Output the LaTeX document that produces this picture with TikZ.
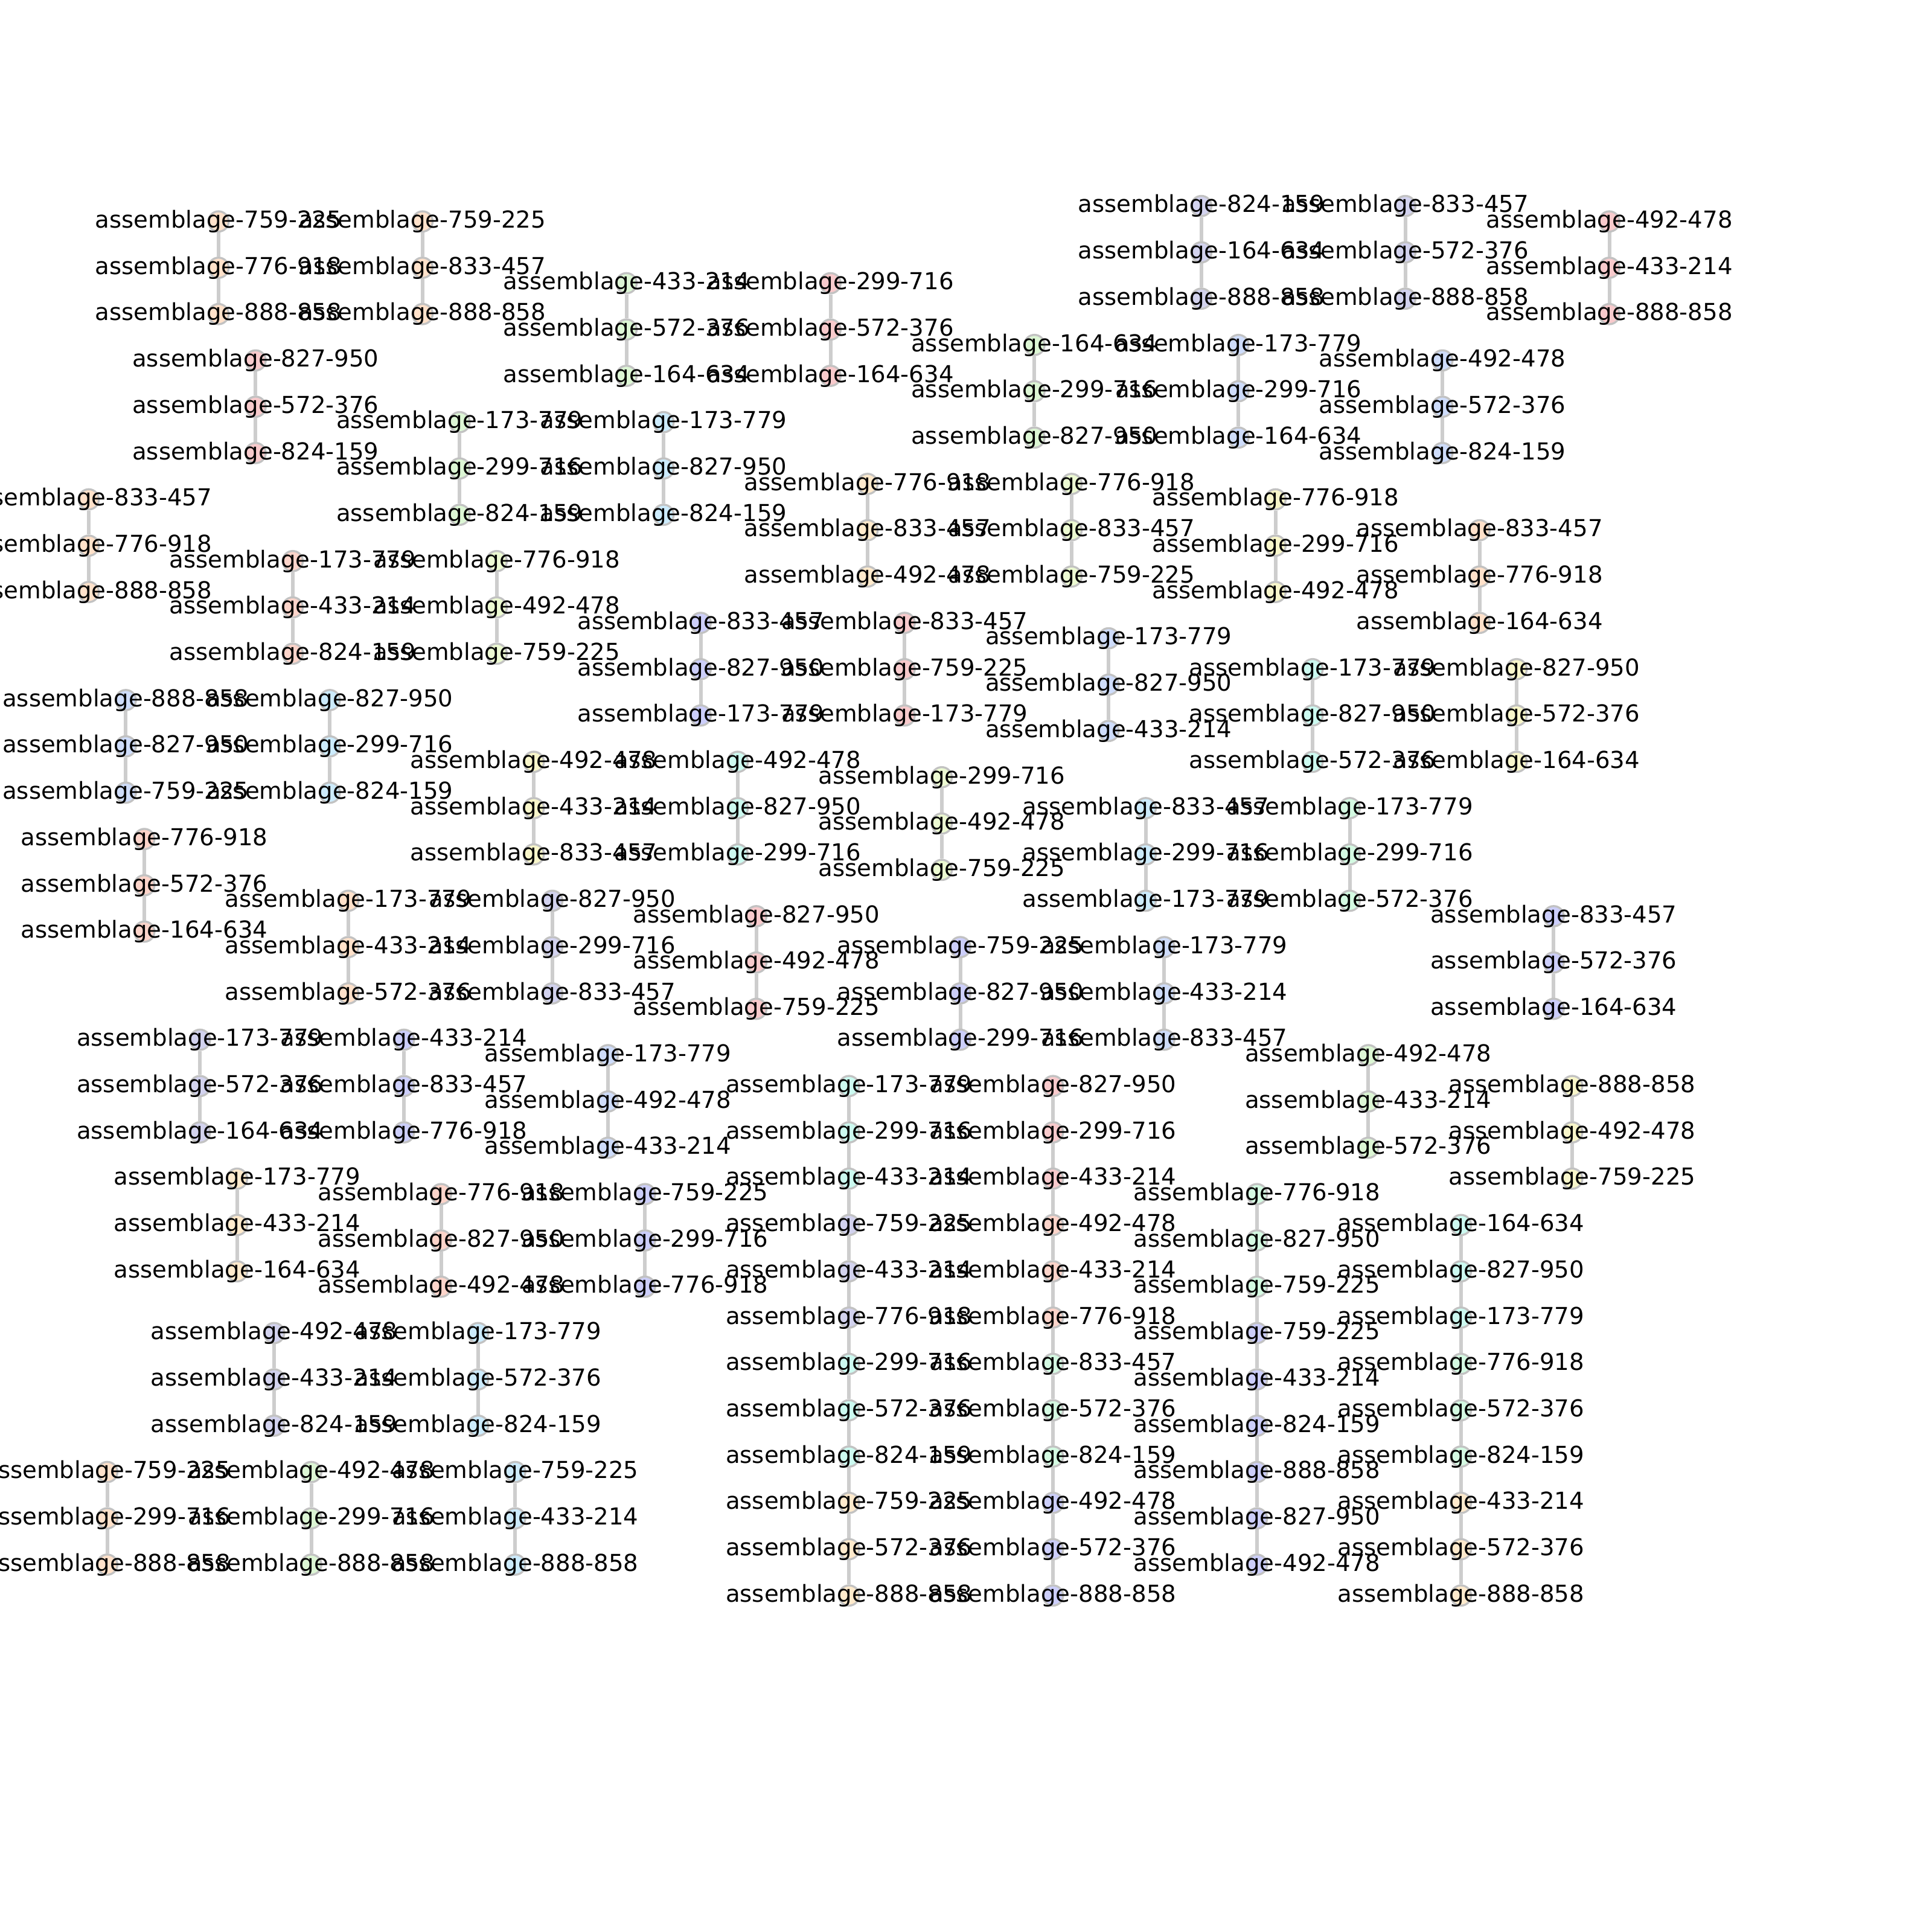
\documentclass[tikz,border=0pt]{standalone}
\usepackage{fontspec}
\setmainfont{DejaVu Sans}
\usetikzlibrary{backgrounds}
\definecolor{peach}{RGB}{255,225,202}
\definecolor{salmon}{RGB}{252,212,202}
\definecolor{rose}{RGB}{248,202,204}
\definecolor{leaf}{RGB}{220,246,212}
\definecolor{lime}{RGB}{236,250,210}
\definecolor{lemon}{RGB}{248,246,202}
\definecolor{cream}{RGB}{255,234,204}
\definecolor{sky}{RGB}{204,235,252}
\definecolor{azure}{RGB}{206,220,250}
\definecolor{peri}{RGB}{204,206,250}
\definecolor{lav}{RGB}{210,210,238}
\definecolor{aqua}{RGB}{204,250,240}
\definecolor{mint}{RGB}{212,250,226}
\definecolor{rim}{RGB}{194,194,194}
\definecolor{wire}{RGB}{205,205,205}

\begin{document}
\begin{tikzpicture}[
    x=0.020408cm, y=-0.020408cm,
    asm/.style={
        circle, draw=rim, line width=0.95pt,
        minimum size=0.335cm, inner sep=0pt
    },
    lab/.style={
        inner sep=0pt, font=\fontsize{11}{13}\selectfont
    },
    link/.style={
        draw=wire, line width=1.7pt
    }
]

    \useasboundingbox (0,0) rectangle (1568,1568);
    \begin{pgfonlayer}{background}
        \fill[white] (0,0) rectangle (1568,1568);
    \end{pgfonlayer}

    % every piece: name / column / row / fill / three labels
    \foreach \n/\k/\m/\c/\a/\b/\d in {
        p1/7/1/peach/759-225/776-918/888-858,
        p2/18/1/peach/759-225/833-457/888-858,
        p3/9/10/rose/827-950/572-376/824-159,
        p4/0/19/peach/833-457/776-918/888-858,
        p5/29/5/leaf/433-214/572-376/164-634,
        p6/40/5/rose/299-716/572-376/164-634,
        p7/20/14/leaf/173-779/299-716/824-159,
        p8/31/14/sky/173-779/827-950/824-159,
        p9/11/23/salmon/173-779/433-214/824-159,
        p10/22/23/lime/776-918/492-478/759-225,
        p11/2/32/azure/888-858/827-950/759-225,
        p12/13/32/sky/827-950/299-716/824-159,
        p13/3/41/salmon/776-918/572-376/164-634,
        p14/33/27/peri/833-457/827-950/173-779,
        p15/44/27/rose/833-457/759-225/173-779,
        p16/42/18/cream/776-918/833-457/492-478,
        p17/53/18/lime/776-918/833-457/759-225,
        p18/51/9/leaf/164-634/299-716/827-950,
        p19/62/9/azure/173-779/299-716/164-634,
        p20/60/0/lav/824-159/164-634/888-858,
        p21/71/0/lav/833-457/572-376/888-858,
        p22/82/1/rose/492-478/433-214/888-858,
        p23/73/10/azure/492-478/572-376/824-159,
        p24/64/19/lemon/776-918/299-716/492-478,
        p25/75/21/peach/833-457/776-918/164-634,
        p26/55/28/azure/173-779/827-950/433-214,
        p27/66/30/aqua/173-779/827-950/572-376,
        p28/77/30/lemon/827-950/572-376/164-634,
        p29/24/36/lemon/492-478/433-214/833-457,
        p30/35/36/aqua/492-478/827-950/299-716,
        p31/46/37/lime/299-716/492-478/759-225,
        p32/57/39/sky/833-457/299-716/173-779,
        p33/68/39/mint/173-779/299-716/572-376,
        p34/79/46/peri/833-457/572-376/164-634,
        p35/14/45/peach/173-779/433-214/572-376,
        p36/25/45/lav/827-950/299-716/833-457,
        p37/36/46/rose/827-950/492-478/759-225,
        p38/47/48/peri/759-225/827-950/299-716,
        p39/58/48/azure/173-779/433-214/833-457,
        p40/6/54/lav/173-779/572-376/164-634,
        p41/17/54/peri/433-214/833-457/776-918,
        p42/28/55/azure/173-779/492-478/433-214,
        p43/69/55/leaf/492-478/433-214/572-376,
        p44/80/57/lemon/888-858/492-478/759-225,
        p45/8/63/cream/173-779/433-214/164-634,
        p46/19/64/salmon/776-918/827-950/492-478,
        p47/30/64/peri/759-225/299-716/776-918,
        p48/41/57/aqua/173-779/299-716/433-214,
        p49/41/66/lav/759-225/433-214/776-918,
        p50/41/75/aqua/299-716/572-376/824-159,
        p51/41/84/cream/759-225/572-376/888-858,
        p52/52/57/rose/827-950/299-716/433-214,
        p53/52/66/salmon/492-478/433-214/776-918,
        p54/52/75/mint/833-457/572-376/824-159,
        p55/52/84/peri/492-478/572-376/888-858,
        p56/63/64/mint/776-918/827-950/759-225,
        p57/63/73/peri/759-225/433-214/824-159,
        p58/63/82/peri/888-858/827-950/492-478,
        p59/74/66/aqua/164-634/827-950/173-779,
        p60/74/75/mint/776-918/572-376/824-159,
        p61/74/84/cream/433-214/572-376/888-858,
        p62/10/73/lav/492-478/433-214/824-159,
        p63/21/73/sky/173-779/572-376/824-159,
        p64/1/82/peach/759-225/299-716/888-858,
        p65/12/82/leaf/492-478/299-716/888-858,
        p66/23/82/sky/759-225/433-214/888-858}{
        \node[asm, fill=\c, label={[lab]center:assemblage-\a}]
            (\n-1) at ({72+15.05*\k},{167.2+12.53*\m}) {};
        \node[asm, fill=\c, label={[lab]center:assemblage-\b}]
            (\n-2) at ({72+15.05*\k},{167.2+12.53*(\m+3)}) {};
        \node[asm, fill=\c, label={[lab]center:assemblage-\d}]
            (\n-3) at ({72+15.05*\k},{167.2+12.53*(\m+6)}) {};
        \begin{pgfonlayer}{background}
            \draw[link] (\n-1) -- (\n-2) -- (\n-3);
        \end{pgfonlayer}
    }

    % the long columns
    \begin{pgfonlayer}{background}
        \draw[link] (p48-3) -- (p49-1) (p49-3) -- (p50-1) (p50-3) -- (p51-1);
        \draw[link] (p52-3) -- (p53-1) (p53-3) -- (p54-1) (p54-3) -- (p55-1);
        \draw[link] (p56-3) -- (p57-1) (p57-3) -- (p58-1);
        \draw[link] (p59-3) -- (p60-1) (p60-3) -- (p61-1);
    \end{pgfonlayer}

\end{tikzpicture}
\end{document}
